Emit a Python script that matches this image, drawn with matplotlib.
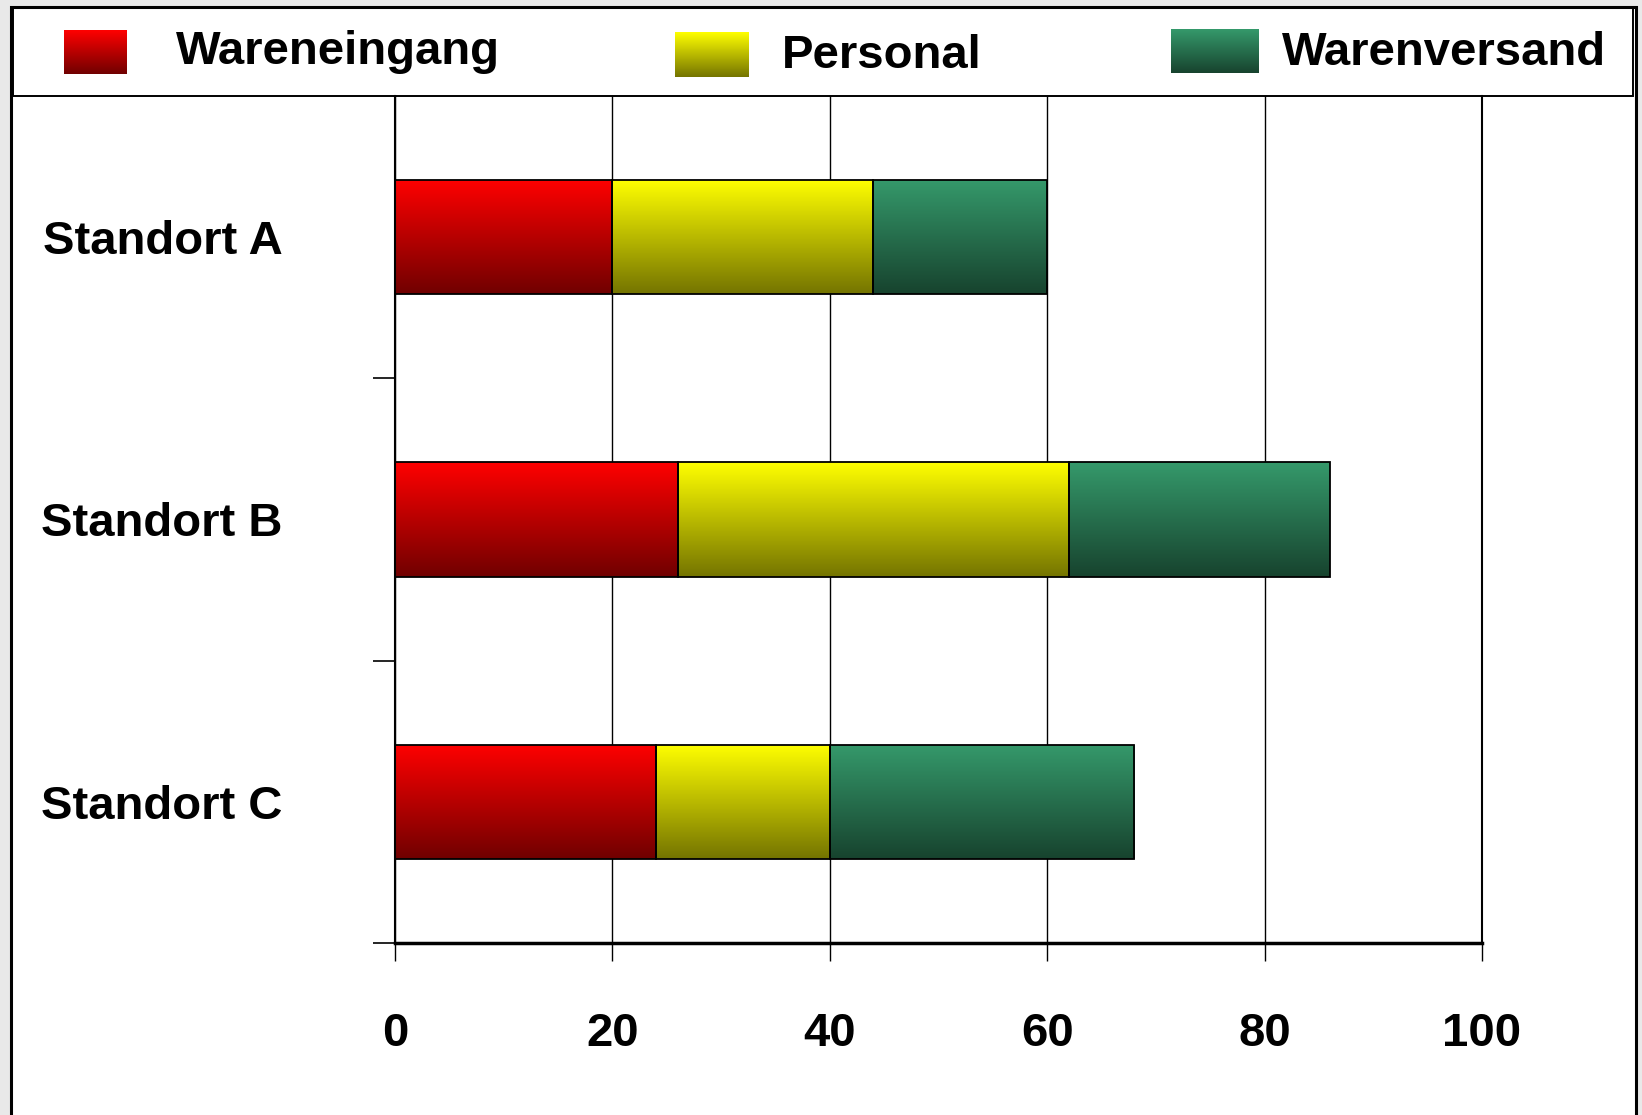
import numpy as np
import matplotlib
matplotlib.use("Agg")
import matplotlib.pyplot as plt
from matplotlib.patches import Rectangle
from matplotlib.colors import LinearSegmentedColormap

plt.rcParams['font.family'] = ['Liberation Sans', 'DejaVu Sans']

categories = ['Standort A', 'Standort B', 'Standort C']
series_names = ['Wareneingang', 'Personal', 'Warenversand']
wareneingang = [20, 26, 24]
personal = [24, 36, 16]
warenversand = [16, 24, 28]
xticks = [0, 20, 40, 60, 80, 100]

grad_colors = [('#ff0000', '#700000'), ('#ffff00', '#747400'), ('#35996b', '#17432e')]
cmaps = [LinearSegmentedColormap.from_list(f'g{i}', c) for i, c in enumerate(grad_colors)]
grad = np.linspace(0, 1, 256).reshape(-1, 1)

W, H = 1642, 1115
fig = plt.figure(figsize=(W / 100, H / 100), dpi=100, facecolor='#e9e9e9')

# background frame / legend box (pixel coordinates)
bg = fig.add_axes([0, 0, 1, 1])
bg.axis('off')
bg.add_patch(Rectangle((11, 6.5), 1625, 1200, facecolor='white', edgecolor='black', lw=2.2, zorder=1))
bg.add_patch(Rectangle((12.5, 8), 1620.5, 88, facecolor='none', edgecolor='black', lw=1.4, zorder=2))

legend_swatches = [(64, 127, 30, 74), (675, 749, 32, 77), (1171, 1259, 29, 73)]
legend_text = [(176, 64), (782, 68), (1282, 65)]
for (x0, x1, y0, y1), cm, (tx, ty), name in zip(legend_swatches, cmaps, legend_text, series_names):
    bg.imshow(grad, extent=(x0, x1, y1, y0), cmap=cm, aspect='auto', origin='upper', zorder=3)
    bg.text(tx, ty, name, fontsize=34, fontweight='bold', ha='left', va='baseline', zorder=4)
bg.set_xlim(0, W)
bg.set_ylim(H, 0)

# main chart
ax = fig.add_axes([395 / W, 172 / H, 1087 / W, 847 / H])
ax.set_facecolor('none')
y = np.arange(len(categories))
data = [np.array(wareneingang), np.array(personal), np.array(warenversand)]
left = np.zeros(len(categories))
for vals, cm in zip(data, cmaps):
    bars = ax.barh(y, vals, left=left, height=0.405, color='none', edgecolor='black', lw=1.3, zorder=3)
    for p in bars.patches:
        x0, y0, w, h = p.get_x(), p.get_y(), p.get_width(), p.get_height()
        im = ax.imshow(grad, extent=(x0, x0 + w, y0 + h, y0), cmap=cm, aspect='auto',
                       origin='upper', zorder=2)
        im.set_clip_path(p)
    left = left + vals

ax.set_xlim(0, 100)
ax.set_ylim(2.5, -0.5)
ax.set_xticks(xticks)
ax.set_xticklabels([str(t) for t in xticks], fontsize=34, fontweight='bold')
ax.set_yticks(y)
ax.set_yticklabels(categories, fontsize=34, fontweight='bold')
ax.set_yticks([0.5, 1.5, 2.5], minor=True)
ax.tick_params(axis='y', which='major', length=0, pad=81)
ax.tick_params(axis='y', which='minor', length=16, width=1.2, direction='out')
ax.tick_params(axis='x', which='major', length=13, width=1.0, direction='out', pad=37)
ax.xaxis.grid(True, color='black', lw=1.0, zorder=1)
ax.set_axisbelow(True)
ax.spines['top'].set_visible(False)
ax.spines['left'].set_linewidth(1.5)
ax.spines['right'].set_linewidth(1.5)
ax.spines['bottom'].set_linewidth(2.5)

fig.savefig('out.png', dpi=100, facecolor=fig.get_facecolor())
